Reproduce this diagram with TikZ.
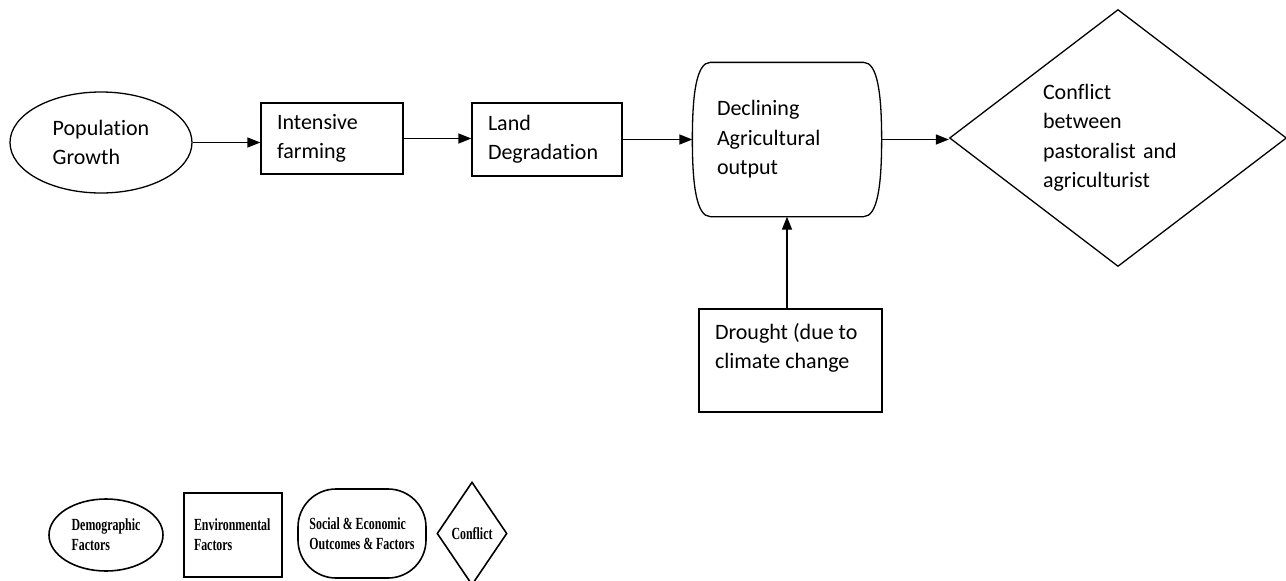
\documentclass[tikz,border=0pt]{standalone}
\usepackage{fontspec}
\setmainfont{Carlito}[Ligatures=NoCommon]
\newfontfamily\legendfont{Liberation Serif}[FakeStretch=0.7]
\usetikzlibrary{shapes.geometric,arrows.meta}
\begin{document}
\begin{tikzpicture}[x=1pt,y=-1pt,
  line width=1.3pt,
  every node/.style={font=\fontsize{22}{29.5}\selectfont},
  arr/.style={-{Triangle[length=13pt,width=10pt]}},
  demog/.style={ellipse, draw, inner sep=0pt, align=left},
  envbox/.style={rectangle, draw, inner xsep=16pt, inner ysep=0pt, align=left},
  outcome/.style={rectangle, draw=none, inner xsep=24pt, inner ysep=0pt, align=left},
  confl/.style={diamond, draw, inner sep=0pt, align=left},
  legtext/.style={font={\legendfont\bfseries\fontsize{17}{20}\selectfont}},
  legline/.style={line width=1.6pt}
]
\fill[white] (0,0) rectangle (1286,581);
\useasboundingbox (0,0) rectangle (1286,581);
\clip (0,0) rectangle (1286,581);

% main chain
\node[demog, minimum width=182pt, minimum height=101pt] (pop) at (101,142.5) {Population\\Growth};
\node[envbox, text width=110pt, minimum height=71pt] (farm) at (332,138.5) {Intensive\\farming};
\node[envbox, text width=118pt, minimum height=73pt] (land) at (547,139.5) {Land\\Degradation};
\node[outcome, text width=140pt, minimum height=153pt] (decl) at (787,139.5) {Declining\\Agricultural\\output};
\node[confl, aspect=1.31, minimum width=337pt, minimum height=257pt, text width=150pt] (conf) at (1118,138)
  {Conflict\\between\\pastoralist and\\agriculturist};

% outline of the outcome shape: flat top and bottom, bulging sides
\draw ([xshift=18pt]decl.north west) -- ([xshift=-18pt]decl.north east)
  .. controls ([xshift=-4pt]decl.north east) and ([yshift=45pt]decl.east) .. (decl.east)
  .. controls ([yshift=-45pt]decl.east) and ([xshift=-4pt]decl.south east) .. ([xshift=-18pt]decl.south east)
  -- ([xshift=18pt]decl.south west)
  .. controls ([xshift=4pt]decl.south west) and ([yshift=-45pt]decl.west) .. (decl.west)
  .. controls ([yshift=45pt]decl.west) and ([xshift=4pt]decl.north west) .. cycle;

% drought box
\node[envbox, minimum width=183pt, minimum height=103pt] (drought) at (790.5,360.5) {};
\node[anchor=north west, inner sep=0pt, align=left] (droughttext) at ([xshift=16pt,yshift=-14pt]drought.north west)
  {Drought (due to\\climate change};

% connectors
\draw[arr] (pop.east) -- (pop.east -| farm.west);
\draw[arr] (farm.east) -- (farm.east -| land.west);
\draw[arr] (land.east) -- (land.east -| decl.west);
\draw[arr] (decl.east) -- (decl.east -| conf.west);
\draw[arr] (drought.north -| decl.south) -- (decl.south);

% legend
\node[demog, legtext, legline, minimum width=114pt, minimum height=72pt] (ldemo) at (106,535) {Demographic\\Factors};
\node[envbox, legtext, legline, inner xsep=10pt, text width=78pt, minimum height=84pt] (lenv) at (233,535) {Environmental\\Factors};
\node[draw, legline, rounded corners=38pt, legtext, minimum width=128pt, minimum height=89pt, align=left, inner sep=0pt] (lsoc) at (362,533.5)
  {Social \& Economic\\Outcomes \& Factors};
\node[confl, legtext, legline, aspect=0.68, minimum width=70pt, minimum height=103pt] (lconf) at (472,533.5) {Conflict};
\end{tikzpicture}
\end{document}
